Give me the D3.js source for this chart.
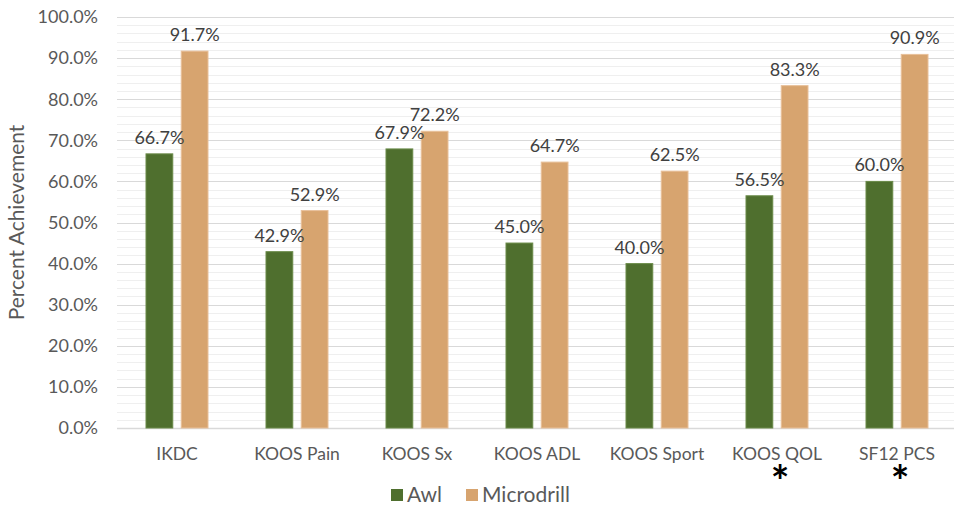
<!DOCTYPE html>
<html lang="en">
<head>
  <meta charset="UTF-8">
  <title>Percent Achievement</title>
  <script src="https://d3js.org/d3.v7.min.js"></script>
  <style>
    body { margin: 0; background: #fff; }
    text { font-family: Lato, 'Open Sans', sans-serif; }
  </style>
</head>
<body>
  <script>
    var categories = ["IKDC", "KOOS Pain", "KOOS Sx", "KOOS ADL", "KOOS Sport", "KOOS QOL", "SF12 PCS"];
    var series = ["Awl", "Microdrill"];
    var awl = [66.7, 42.9, 67.9, 45.0, 40.0, 56.5, 60.0];
    var microdrill = [91.7, 52.9, 72.2, 64.7, 62.5, 83.3, 90.9];
    var significant = ["KOOS QOL", "SF12 PCS"];
    var yTicks = [0, 10, 20, 30, 40, 50, 60, 70, 80, 90, 100];
    var colors = { Awl: "#4f6f2e", Microdrill: "#d7a46f" };

    var width = 954, height = 509;
    var plotLeft = 117, plotRight = 957, plotTop = 17, plotBottom = 428;

    var svg = d3.select("body").append("svg")
      .attr("width", width)
      .attr("height", height);

    var x = d3.scaleBand().domain(categories).range([plotLeft, plotRight]);
    var xs = d3.scaleBand().domain(series).range([-31, 31]).paddingInner(0.24);
    var y = d3.scaleLinear().domain([0, 100]).range([plotBottom, plotTop]);

    // minor gridlines every 2%
    svg.append("g").selectAll("line")
      .data(d3.range(0, 101, 2).filter(function (d) { return d % 10 !== 0; }))
      .enter().append("line")
      .attr("x1", plotLeft).attr("x2", width)
      .attr("y1", function (d) { return Math.round(y(d)) + 0.5; })
      .attr("y2", function (d) { return Math.round(y(d)) + 0.5; })
      .attr("stroke", "#efefef");

    // major gridlines
    svg.append("g").selectAll("line")
      .data(yTicks)
      .enter().append("line")
      .attr("x1", plotLeft).attr("x2", width)
      .attr("y1", function (d) { return Math.round(y(d)) + 0.5; })
      .attr("y2", function (d) { return Math.round(y(d)) + 0.5; })
      .attr("stroke", "#d9d9d9")
      .attr("stroke-width", function (d) { return d === 0 ? 1.5 : 1; });

    // y axis labels
    svg.append("g").selectAll("text")
      .data(yTicks)
      .enter().append("text")
      .attr("x", 98)
      .attr("y", function (d) { return y(d); })
      .attr("dy", "0.35em")
      .attr("text-anchor", "end")
      .attr("font-size", 18)
      .attr("fill", "#595959")
      .text(function (d) { return d.toFixed(1) + "%"; });

    svg.append("text")
      .attr("transform", "translate(24," + ((plotTop + plotBottom) / 2) + ") rotate(-90)")
      .attr("text-anchor", "middle")
      .attr("font-size", 21)
      .attr("fill", "#595959")
      .text("Percent Achievement");

    var rows = categories.map(function (c, i) {
      return { cat: c, values: [{ s: "Awl", v: awl[i] }, { s: "Microdrill", v: microdrill[i] }] };
    });

    var groups = svg.append("g").selectAll("g")
      .data(rows)
      .enter().append("g")
      .attr("transform", function (d) { return "translate(" + (x(d.cat) + x.bandwidth() / 2) + ",0)"; });

    groups.selectAll("rect")
      .data(function (d) { return d.values; })
      .enter().append("rect")
      .attr("x", function (d) { return xs(d.s); })
      .attr("width", xs.bandwidth())
      .attr("y", function (d) { return y(d.v); })
      .attr("height", function (d) { return plotBottom - y(d.v); })
      .attr("fill", function (d) { return colors[d.s]; })
      .attr("stroke", function (d) { return d.s === "Awl" ? "#6a8a48" : "#e8c09a"; })
      .attr("stroke-width", 1);

    groups.selectAll("text.val")
      .data(function (d) { return d.values; })
      .enter().append("text")
      .attr("class", "val")
      .attr("x", function (d) { return xs(d.s) + xs.bandwidth() / 2; })
      .attr("y", function (d) { return y(d.v) - 10; })
      .attr("text-anchor", "middle")
      .attr("font-size", 18)
      .attr("fill", "#404040")
      .text(function (d) { return d.v.toFixed(1) + "%"; });

    // category labels
    svg.append("g").selectAll("text")
      .data(categories)
      .enter().append("text")
      .attr("x", function (d) { return x(d) + x.bandwidth() / 2; })
      .attr("y", 460)
      .attr("text-anchor", "middle")
      .attr("font-size", 17.5)
      .attr("fill", "#595959")
      .text(function (d) { return d; });

    // significance asterisks
    svg.append("g").selectAll("text")
      .data(significant)
      .enter().append("text")
      .attr("x", function (d) { return x(d) + x.bandwidth() / 2 + 3; })
      .attr("y", 497)
      .attr("text-anchor", "middle")
      .attr("font-size", 44)
      .attr("font-weight", "bold")
      .attr("fill", "#000")
      .text("*");

    // legend
    var legendX = [391, 466];
    var legend = svg.append("g").selectAll("g")
      .data(series)
      .enter().append("g")
      .attr("transform", function (d, i) { return "translate(" + legendX[i] + ",489)"; });

    legend.append("rect")
      .attr("width", 12).attr("height", 12)
      .attr("fill", function (d) { return colors[d]; });

    legend.append("text")
      .attr("x", 16)
      .attr("y", 6)
      .attr("dy", "0.35em")
      .attr("font-size", 21)
      .attr("fill", "#595959")
      .text(function (d) { return d; });
  </script>
</body>
</html>
